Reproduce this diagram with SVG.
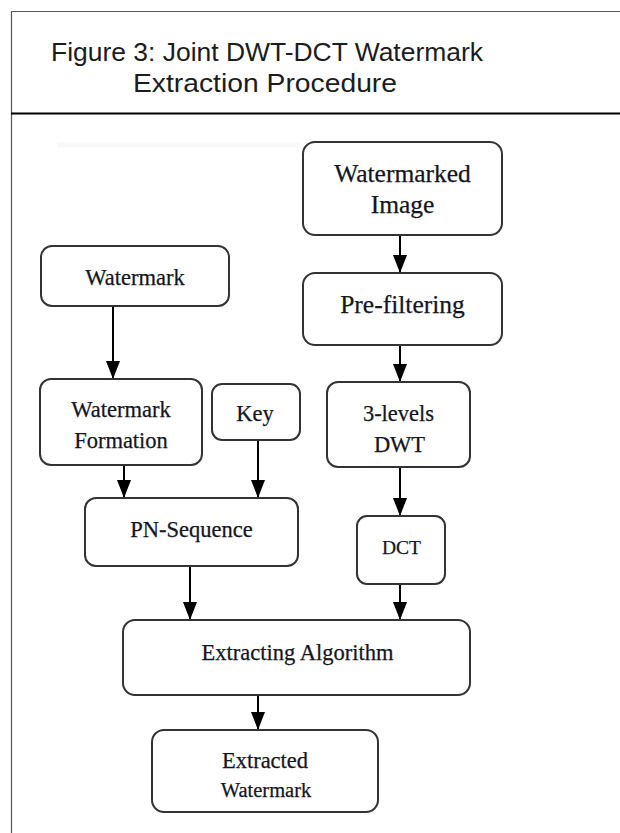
<svg xmlns="http://www.w3.org/2000/svg" width="620" height="833" viewBox="0 0 620 833">
  <defs>
    <style>
      .frame { stroke: #555; stroke-width: 1.2; fill: none; }
      .divider { stroke: #000; stroke-width: 2; }
      .title { font-family: "Liberation Sans", Arial, sans-serif; font-size: 26px; fill: #1c1c1c; text-anchor: middle; }
      .box { fill: #fff; stroke: #333; stroke-width: 2; }
      .lbl { font-family: "Liberation Serif", "Times New Roman", serif; font-size: 22.5px; fill: #15151f; text-anchor: middle; stroke: #15151f; stroke-width: 0.25; }
      .big { font-size: 25.5px; }
      .small { font-size: 19.5px; }
      .edge { stroke: #000; stroke-width: 2; fill: none; marker-end: url(#head); }
    </style>
    <!-- solid triangular arrowhead, tip at the end of the line -->
    <marker id="head" markerUnits="userSpaceOnUse" markerWidth="18" markerHeight="16" viewBox="0 0 18 16" refX="18" refY="8" orient="auto">
      <path d="M0,1 L18,8 L0,15 Z" fill="#000"/>
    </marker>
  </defs>

  <!-- surrounding table frame -->
  <path class="frame" d="M11.5,833 V11.5 H620"/>
  <line class="divider" x1="11" y1="113.5" x2="620" y2="113.5"/>

  <!-- caption -->
  <text class="title" x="267" y="61" textLength="432" lengthAdjust="spacingAndGlyphs">Figure 3: Joint DWT-DCT Watermark</text>
  <text class="title" x="265" y="92" textLength="264" lengthAdjust="spacingAndGlyphs">Extraction Procedure</text>

  <!-- faint scan line under the caption -->
  <line x1="57" y1="145" x2="300" y2="145" stroke="#f8f8f8" stroke-width="5"/>

  <!-- connectors -->
  <g id="connectors">
    <line class="edge" x1="400" y1="236" x2="400" y2="273"/>
    <line class="edge" x1="113" y1="306" x2="113" y2="379"/>
    <line class="edge" x1="400" y1="345" x2="400" y2="382"/>
    <line class="edge" x1="124" y1="465" x2="124" y2="498"/>
    <line class="edge" x1="258" y1="440" x2="258" y2="498"/>
    <line class="edge" x1="400" y1="467" x2="400" y2="516"/>
    <line class="edge" x1="190" y1="566" x2="190" y2="620"/>
    <line class="edge" x1="400" y1="584" x2="400" y2="620"/>
    <line class="edge" x1="258" y1="695" x2="258" y2="730"/>
  </g>

  <g id="watermarked-image">
    <rect class="box" x="303" y="142" width="199" height="93" rx="12"/>
    <text class="lbl big" x="402.5" y="182">Watermarked</text>
    <text class="lbl big" x="402.5" y="213">Image</text>
  </g>

  <g id="watermark">
    <rect class="box" x="41" y="246" width="188" height="60" rx="11"/>
    <text class="lbl" x="135" y="285">Watermark</text>
  </g>

  <g id="pre-filtering">
    <rect class="box" x="303" y="273" width="199" height="72" rx="12"/>
    <text class="lbl big" x="402.5" y="313">Pre-filtering</text>
  </g>

  <g id="watermark-formation">
    <rect class="box" x="40" y="379" width="162" height="86" rx="11"/>
    <text class="lbl" x="121" y="417">Watermark</text>
    <text class="lbl" x="121" y="448">Formation</text>
  </g>

  <g id="key">
    <rect class="box" x="212" y="384" width="88" height="56" rx="10"/>
    <text class="lbl" x="255" y="421">Key</text>
  </g>

  <g id="dwt">
    <rect class="box" x="327" y="382" width="143" height="85" rx="11"/>
    <text class="lbl" x="398.5" y="421">3-levels</text>
    <text class="lbl" x="399.5" y="452">DWT</text>
  </g>

  <g id="pn-sequence">
    <rect class="box" x="85" y="498" width="213" height="68" rx="11"/>
    <text class="lbl" x="191.5" y="537">PN-Sequence</text>
  </g>

  <g id="dct">
    <rect class="box" x="357" y="516" width="88" height="68" rx="10"/>
    <text class="lbl small" x="401.5" y="554">DCT</text>
  </g>

  <g id="extracting-algorithm">
    <rect class="box" x="123" y="620" width="347" height="75" rx="12"/>
    <text class="lbl" x="297.5" y="660">Extracting Algorithm</text>
  </g>

  <g id="extracted-watermark">
    <rect class="box" x="152" y="730" width="226" height="82" rx="12"/>
    <text class="lbl" x="265" y="768">Extracted</text>
    <text class="lbl" x="266" y="797" style="font-size:20.5px">Watermark</text>
  </g>
</svg>
